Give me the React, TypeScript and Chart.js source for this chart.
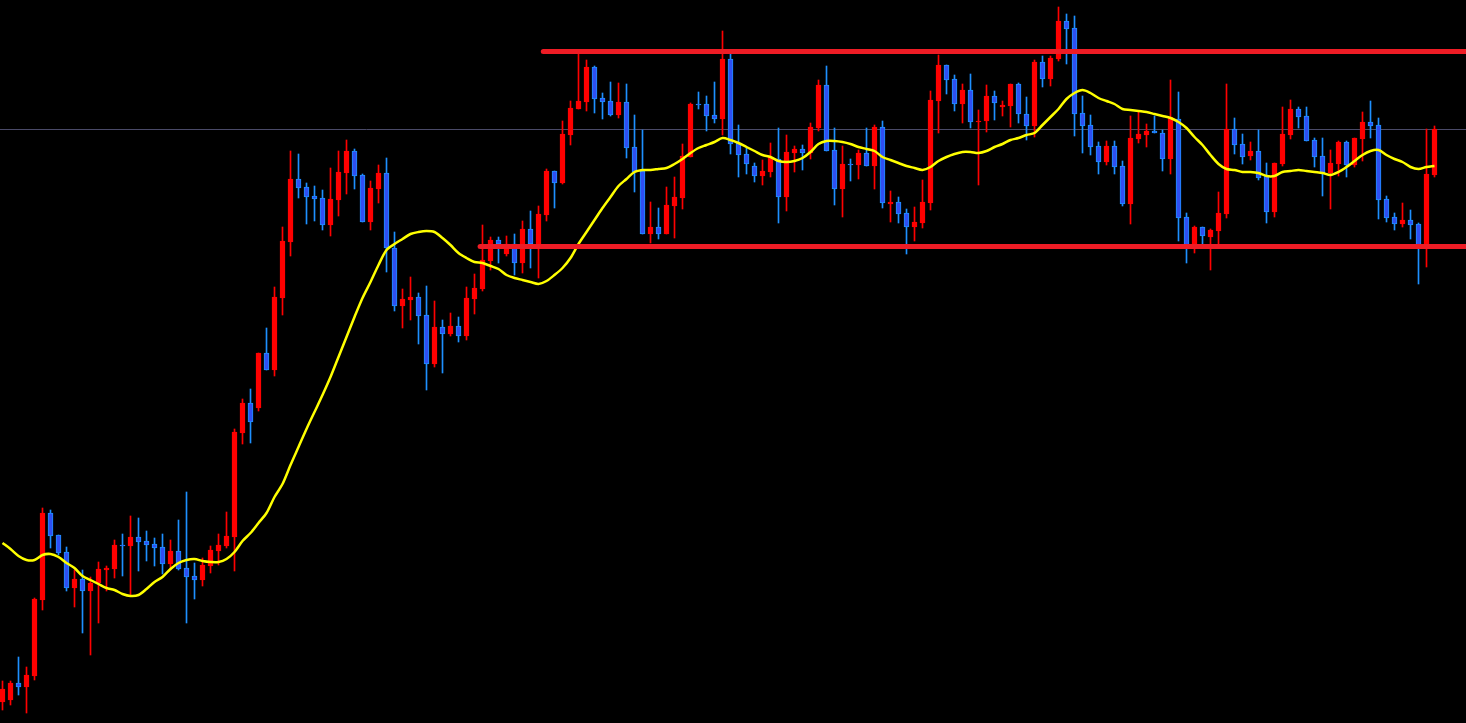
import React, { useEffect, useRef } from "react";
import { Chart, registerables } from "chart.js";

Chart.register(...registerables);

// Candle data (price points), one entry per bar
const opens = [
  21, 23, 40, 36, 47, 123, 210, 188, 171, 135,
  144, 132, 140, 153, 154, 178, 177, 186, 182, 179,
  176, 159, 172, 155, 147, 143, 157, 172, 177, 186,
  290, 320, 315, 370, 353, 425, 481, 544, 536, 527,
  525, 498, 523, 550, 572, 548, 501, 534, 550, 475,
  417, 423, 426, 408, 359, 396, 389, 397, 387, 424,
  434, 462, 483, 469, 479, 460, 494, 479, 508, 552,
  540, 588, 614, 621, 656, 625, 622, 608, 621, 576,
  552, 489, 496, 489, 517, 525, 566, 619, 619, 608,
  604, 664, 580, 569, 557, 547, 551, 564, 526, 570,
  574, 570, 595, 638, 573, 534, 559, 558, 570, 557,
  596, 519, 521, 510, 496, 500, 520, 622, 658, 644,
  619, 633, 601, 602, 627, 616, 617, 639, 609, 597,
  661, 644, 664, 702, 695, 610, 598, 577, 561, 577,
  557, 519, 584, 588, 592, 590, 564, 604, 506, 478,
  496, 486, 492, 509, 594, 579, 567, 572, 547, 511,
  559, 588, 614, 607, 583, 567, 550, 559, 581, 558,
  584, 601, 598, 524, 506, 499, 503, 499, 476, 548,
];

const highs = [
  42, 42, 66, 56, 125, 215, 213, 188, 176, 153,
  153, 146, 161, 157, 183, 189, 207, 205, 192, 185,
  189, 183, 203, 231, 160, 165, 177, 189, 211, 294,
  324, 334, 370, 395, 436, 496, 572, 569, 540, 537,
  533, 555, 572, 583, 574, 549, 542, 558, 565, 491,
  434, 446, 430, 437, 422, 403, 410, 406, 436, 449,
  498, 486, 486, 487, 489, 502, 512, 517, 554, 552,
  602, 622, 669, 663, 657, 630, 641, 640, 639, 608,
  593, 521, 515, 536, 546, 579, 620, 631, 627, 641,
  692, 669, 598, 575, 560, 563, 580, 595, 588, 577,
  578, 600, 643, 657, 595, 577, 564, 573, 595, 598,
  602, 532, 526, 514, 516, 543, 632, 668, 658, 648,
  639, 649, 613, 638, 632, 622, 639, 640, 626, 663,
  667, 667, 716, 709, 707, 627, 608, 581, 582, 582,
  562, 607, 611, 599, 607, 593, 643, 631, 510, 497,
  496, 494, 531, 639, 605, 589, 581, 593, 560, 560,
  616, 623, 616, 616, 585, 585, 573, 582, 582, 585,
  611, 622, 605, 527, 510, 520, 513, 500, 594, 597,
];

const lows = [
  13, 18, 28, 10, 43, 113, 175, 168, 132, 116,
  90, 68, 100, 132, 145, 147, 128, 152, 162, 157,
  149, 153, 153, 100, 124, 137, 150, 158, 175, 152,
  279, 280, 312, 353, 347, 408, 467, 525, 499, 502,
  493, 487, 507, 529, 534, 501, 493, 520, 451, 412,
  395, 403, 379, 333, 356, 350, 387, 381, 383, 409,
  432, 453, 460, 467, 448, 450, 455, 445, 502, 515,
  539, 578, 614, 612, 610, 604, 607, 605, 565, 531,
  489, 480, 484, 489, 485, 514, 566, 614, 592, 600,
  588, 569, 546, 549, 541, 538, 546, 500, 512, 551,
  553, 564, 592, 572, 518, 506, 542, 544, 557, 534,
  515, 501, 500, 469, 482, 495, 513, 590, 629, 612,
  600, 595, 538, 591, 603, 607, 596, 600, 583, 586,
  636, 637, 662, 659, 587, 570, 568, 549, 558, 549,
  517, 499, 580, 576, 590, 552, 549, 482, 460, 470,
  478, 453, 478, 505, 569, 559, 563, 543, 500, 506,
  557, 584, 595, 582, 556, 527, 514, 547, 546, 556,
  562, 585, 504, 501, 493, 496, 484, 439, 456, 546,
];

const closes = [
  34, 40, 36, 48, 124, 210, 187, 170, 135, 144,
  132, 140, 154, 155, 178, 177, 186, 181, 178, 175,
  159, 172, 154, 146, 143, 158, 173, 178, 187, 291,
  320, 301, 370, 353, 426, 482, 544, 535, 526, 524,
  498, 524, 551, 572, 547, 501, 535, 550, 475, 417,
  424, 426, 407, 359, 396, 389, 397, 387, 425, 435,
  463, 483, 479, 479, 460, 494, 479, 509, 552, 540,
  589, 615, 622, 656, 624, 621, 608, 621, 575, 551,
  489, 496, 489, 518, 526, 567, 619, 618, 607, 604,
  664, 579, 568, 559, 547, 552, 566, 526, 571, 574,
  570, 596, 638, 572, 534, 559, 558, 570, 557, 596,
  520, 521, 509, 496, 501, 521, 623, 658, 643, 619,
  633, 601, 602, 627, 620, 618, 639, 609, 597, 661,
  644, 665, 702, 694, 609, 597, 576, 561, 577, 556,
  519, 585, 589, 592, 590, 564, 606, 505, 478, 496,
  487, 493, 510, 594, 578, 566, 572, 545, 511, 560,
  589, 614, 606, 582, 566, 550, 560, 581, 558, 585,
  601, 597, 523, 505, 499, 503, 498, 476, 549, 594,
];

// Moving average
const maValues = [
  180, 174, 167, 163, 163, 168, 169, 166, 160, 155,
  147, 143, 139, 135, 133, 129, 127, 128, 134, 141,
  146, 154, 160, 163, 164, 162, 161, 161, 164, 171,
  182, 190, 200, 210, 226, 239, 258, 276, 294, 311,
  328, 346, 366, 386, 406, 425, 441, 458, 473, 479,
  484, 489, 491, 492, 491, 485, 478, 470, 465, 461,
  460, 457, 454, 448, 445, 443, 441, 439, 442, 448,
  455, 465, 479, 491, 503, 515, 526, 537, 544, 551,
  553, 553, 554, 555, 559, 564, 570, 575, 578, 581,
  585, 583, 580, 576, 572, 568, 566, 562, 561, 562,
  565, 571, 579, 582, 582, 581, 579, 576, 574, 572,
  566, 563, 560, 557, 555, 553, 556, 562, 566, 569,
  571, 571, 570, 572, 576, 579, 583, 585, 588, 590,
  598, 606, 614, 624, 630, 633, 630, 625, 622, 619,
  614, 613, 612, 611, 609, 607, 605, 601, 595, 586,
  578, 568, 559, 554, 553, 551, 551, 550, 547, 547,
  551, 552, 553, 552, 551, 550, 548, 551, 556, 562,
  568, 572, 573, 568, 564, 561, 556, 554, 556, 557,
];

// Horizontal levels
const resistanceLevel = 671.5;
const supportLevel = 476.5;
const referenceLevel = 593.5;
const resistanceStartBar = 67.6;
const supportStartBar = 59.7;

const BULL = "#ff0000";
const BEAR_FILL = "#2f4ff2";
const BEAR_EDGE = "#1e90ff";
const LEVEL_RED = "#ee1c25";

const X_MIN = -0.3125;
const X_MAX = 182.9375;

export default function App() {
  const ref = useRef<HTMLCanvasElement | null>(null);

  useEffect(() => {
    const canvas = ref.current;
    if (!canvas) return;
    const n = opens.length;
    const idx = opens.map((_, i) => i);
    const bull = idx.map((i) => closes[i] >= opens[i]);

    const wickData = idx.map((i) => ({ x: i, y: [lows[i], highs[i]] }));
    const bodyData = idx.map((i) => ({ x: i, y: [opens[i], closes[i]] }));
    const maData = idx.map((i) => ({ x: i, y: maValues[i] }));

    const chart = new Chart(canvas, {
      type: "bar",
      data: {
        datasets: [
          {
            type: "line",
            data: [
              { x: resistanceStartBar, y: resistanceLevel },
              { x: X_MAX, y: resistanceLevel },
            ],
            borderColor: LEVEL_RED,
            borderWidth: 5,
            borderCapStyle: "round",
            pointRadius: 0,
            order: 0,
          } as any,
          {
            type: "line",
            data: [
              { x: supportStartBar, y: supportLevel },
              { x: X_MAX, y: supportLevel },
            ],
            borderColor: LEVEL_RED,
            borderWidth: 5,
            borderCapStyle: "round",
            pointRadius: 0,
            order: 0,
          } as any,
          {
            type: "line",
            data: maData,
            borderColor: "#ffff00",
            borderWidth: 2.5,
            pointRadius: 0,
            tension: 0.3,
            order: 1,
          } as any,
          {
            type: "bar",
            data: bodyData,
            backgroundColor: idx.map((i) => (bull[i] ? BULL : BEAR_FILL)),
            borderColor: idx.map((i) => (bull[i] ? BULL : BEAR_EDGE)),
            borderWidth: 1,
            borderSkipped: false,
            barThickness: 5,
            minBarLength: 1,
            grouped: false,
            order: 2,
          } as any,
          {
            type: "bar",
            data: wickData,
            backgroundColor: idx.map((i) => (bull[i] ? BULL : BEAR_EDGE)),
            borderWidth: 0,
            barThickness: 1,
            grouped: false,
            order: 3,
          } as any,
          {
            type: "line",
            data: [
              { x: X_MIN, y: referenceLevel },
              { x: X_MAX, y: referenceLevel },
            ],
            borderColor: "#4a4a68",
            borderWidth: 1,
            pointRadius: 0,
            order: 4,
          } as any,
        ],
      },
      options: {
        responsive: false,
        animation: false,
        devicePixelRatio: 1,
        events: [],
        layout: { padding: 0 },
        plugins: {
          legend: { display: false },
          tooltip: { enabled: false },
          title: { display: false },
        },
        scales: {
          x: { type: "linear", display: false, min: X_MIN, max: X_MAX, offset: false },
          y: { type: "linear", display: false, min: 0, max: 723 },
        },
      } as any,
    });
    void n;
    return () => chart.destroy();
  }, []);

  return (
    <div
      style={{
        position: "fixed",
        left: 0,
        top: 0,
        width: 1466,
        height: 723,
        background: "#000000",
        overflow: "hidden",
      }}
    >
      <canvas ref={ref} width={1466} height={723} style={{ display: "block" }} />
    </div>
  );
}
